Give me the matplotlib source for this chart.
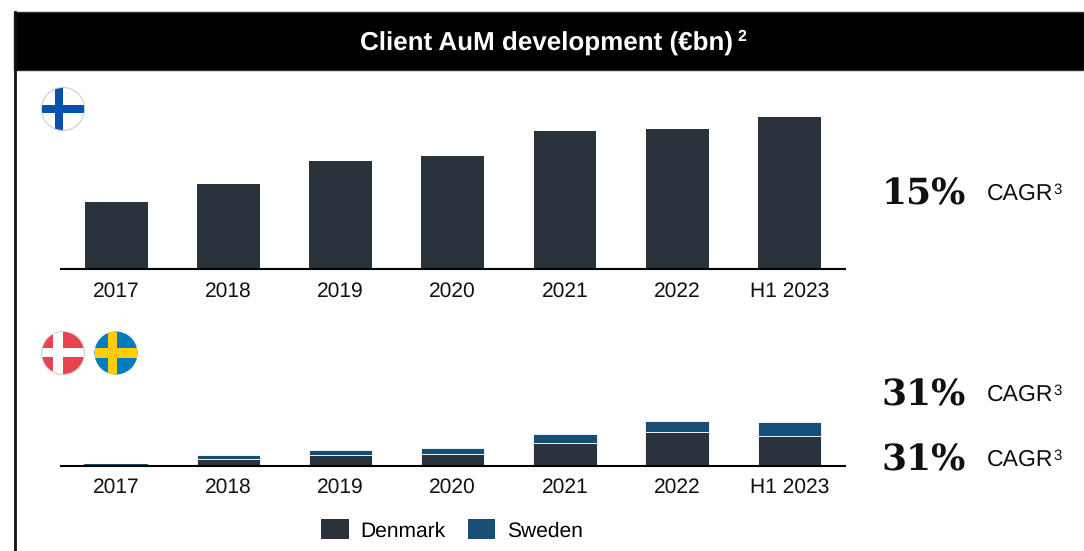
#!/usr/bin/env python3

import matplotlib
matplotlib.use('Agg')
from matplotlib import pyplot as plt
from matplotlib.patches import Circle, Rectangle
import numpy as np

plt.rcParams['font.family'] = ['Liberation Sans', 'DejaVu Sans']
plt.rcParams['text.hinting'] = 'no_hinting'
plt.rcParams['text.hinting_factor'] = 1

W, H = 1084, 551
dark = '#2A323C'
blue = '#164F75'

### Data (no axis in the picture, heights in relative units as read)
labels = ['2017', '2018', '2019', '2020', '2021', '2022', 'H1 2023']
finland = [67, 85, 108, 113, 138, 140, 152]
denmark = [0.5, 7.5, 11, 12, 23.5, 34, 30]
sweden = [1.5, 4, 5.5, 6.5, 9, 11, 14]
title = 'Client AuM development (€bn)'
title_note = '2'
cagr_top = '15%'
cagr_sweden = '31%'
cagr_denmark = '31%'
cagr_label = 'CAGR'
cagr_note = '3'


def px_axes(x0, y0, x1, y1):
    # axes from pixel box, y counted from top of the image
    return fig.add_axes((x0/W, 1-y1/H, (x1-x0)/W, (y1-y0)/H))


def style_bars(ax, ymax, pad):
    ax.set_xlim(-0.5, 6.5)
    ax.set_ylim(0, ymax)
    ax.set_xticks(np.arange(len(labels)), labels, size=15.3, color='#111111')
    ax.tick_params(axis='x', length=0, pad=pad)
    ax.set_yticks([])
    for s in ['top', 'left', 'right']:
        ax.spines[s].set_visible(False)
    ax.spines['bottom'].set_linewidth(1.5)
    ax.spines['bottom'].set_color('black')
    ax.spines['bottom'].set_capstyle('butt')


def flag(ax, cx, cy, bg, cross, vx, hy, edge=None):
    r = 21.5
    disc = Circle((cx, cy), r, fc=bg, ec='none', zorder=3)
    ax.add_patch(disc)
    for rect in [Rectangle((vx[0], cy-r), vx[1]-vx[0], 2*r, fc=cross, ec='none', zorder=4),
                 Rectangle((cx-r, hy[0]), 2*r, hy[1]-hy[0], fc=cross, ec='none', zorder=4)]:
        ax.add_patch(rect)
        rect.set_clip_path(disc)
    if edge:
        ax.add_patch(Circle((cx, cy), r, fc='none', ec=edge, lw=0.7, zorder=5))


fig = plt.figure(figsize=(W/100, H/100), dpi=100)

### Bars
x = np.arange(len(labels))
ax1 = px_axes(60, 90, 845.5, 268.5)
ax1.bar(x, finland, width=0.56, color=dark)
style_bars(ax1, 178.5, 9.4)

edge_w = [0, 0.6, 0.6, 0.6, 0.6, 0.6, 0.6]
ax2 = px_axes(60, 400, 845.5, 466)
b1 = ax2.bar(x, denmark, width=0.565, color=dark, ec='white', lw=edge_w, label='Denmark')
b2 = ax2.bar(x, sweden, width=0.565, bottom=denmark, color=blue, ec='white', lw=edge_w, label='Sweden')
style_bars(ax2, 66, 8.5)

### Frame, title, flags, CAGR
over = fig.add_axes((0, 0, 1, 1), zorder=5)
over.set_xlim(0, W)
over.set_ylim(H, 0)
over.axis('off')
over.patch.set_alpha(0)

over.add_patch(Rectangle((14, 12), W-14, 58, fc='black', ec='#303030', lw=1))
over.plot([15, 15], [12, H], color='#111111', lw=2)
over.text(547, 44, title, color='white', weight='bold', size=19.0, ha='center', va='center')
over.text(737, 36.5, title_note, color='white', weight='bold', size=11.5, ha='left', va='center')

flag(over, 63, 109, 'white', '#0451AE', (55, 63.3), (105, 113), edge='#C8C8C8')
flag(over, 63, 353, '#E8434F', 'white', (53, 63.3), (348, 357), edge='#D0D0D0')
flag(over, 116, 353, '#007DBC', '#FFCD00', (107.5, 117), (348, 358))

for y, big in [(191, cagr_top), (392, cagr_sweden), (457, cagr_denmark)]:
    over.text(923.5, y+4, big, family='DejaVu Serif', weight='bold', size=26,
              ha='center', va='center', color='#111111')
    over.text(987, y+3, cagr_label, size=16.6, ha='left', va='center', color='#111111')
    over.text(1053, y-1, cagr_note, size=10.5, ha='left', va='center', color='#111111')

fig.legend(handles=[b1, b2], ncols=2, loc='center', bbox_to_anchor=(452/W, 1-530/H),
           frameon=False, fontsize=15.3, handlelength=1.3, handleheight=1.08,
           handletextpad=0.55, columnspacing=1.05, borderpad=0)

fig.savefig('out.png', dpi=100)
